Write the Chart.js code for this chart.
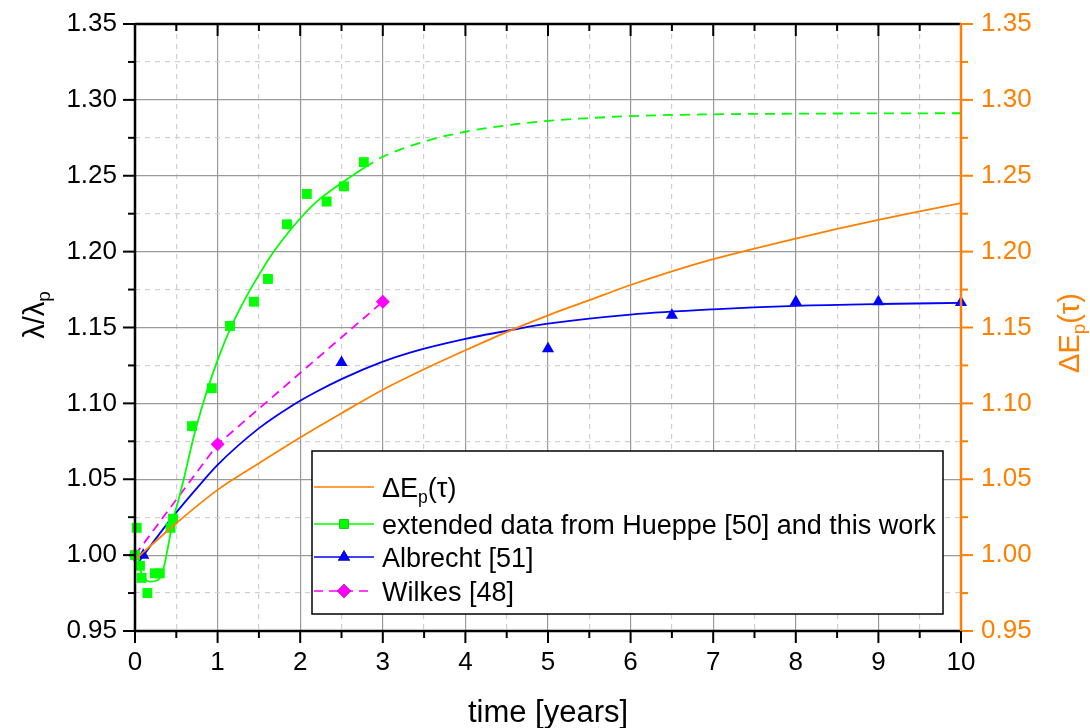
<!DOCTYPE html>
<html>
<head>
<meta charset="utf-8">
<script src="https://cdn.jsdelivr.net/npm/chart.js@4.4.1/dist/chart.umd.min.js"></script>
<style>
  html, body { margin: 0; padding: 0; background: #fff; }
  #wrap { width: 1090px; height: 728px; }
</style>
</head>
<body>
<div id="wrap"><canvas id="chart" width="1090" height="728"></canvas></div>
<script>
// values (time in years, y = lambda/lambda_p)
const hueppeTime = [0, 0.02, 0.06, 0.08, 0.15, 0.24, 0.30, 0.43, 0.46, 0.69, 0.93, 1.15, 1.44, 1.61, 1.84, 2.08, 2.32, 2.53, 2.77];
const hueppeValue = [1.000, 1.018, 0.993, 0.985, 0.975, 0.988, 0.988, 1.018, 1.024, 1.085, 1.110, 1.151, 1.167, 1.182, 1.218, 1.238, 1.233, 1.243, 1.259];

const hueppeFitTime = [0.04, 0.06, 0.10, 0.18, 0.28, 0.34, 0.40, 0.46, 0.525, 0.59, 0.72, 0.87, 1.01, 1.16, 1.34, 1.51, 1.70, 2.01, 2.19, 2.52, 2.78];
const hueppeFitValue = [0.997, 0.991, 0.986, 0.9825, 0.9836, 0.990, 1.0055, 1.023, 1.036, 1.050, 1.080, 1.108, 1.130, 1.150, 1.1695, 1.1855, 1.2015, 1.2225, 1.2325, 1.246, 1.2555];
const hueppeExtTime = [2.78, 3.0, 3.5, 4.0, 4.5, 5.0, 5.5, 6.0, 7.0, 8.0, 9.0, 10.0];
const hueppeExtValue = [1.2555, 1.2625, 1.2725, 1.2790, 1.2832, 1.2862, 1.2880, 1.2893, 1.2905, 1.2909, 1.2911, 1.2912];

const albrechtTime = [0.1, 2.5, 5, 6.5, 8, 9, 10];
const albrechtValue = [1.000, 1.127, 1.136, 1.158, 1.167, 1.167, 1.1665];
const albrechtFitTime = [0.05, 0.2, 0.46, 0.81, 1.0, 1.51, 1.9, 2.19, 2.52, 3.0, 3.33, 4.0, 4.62, 5.0, 6.0, 7.0, 8.0, 9.0, 10.0];
const albrechtFitValue = [0.996, 1.007, 1.0255, 1.048, 1.0595, 1.084, 1.0985, 1.1075, 1.1165, 1.1275, 1.1335, 1.1425, 1.149, 1.1525, 1.1585, 1.162, 1.1643, 1.1655, 1.1662];

const wilkesTime = [0, 1, 3];
const wilkesValue = [1.000, 1.073, 1.167];

const deltaETime = [0, 0.5, 1, 1.5, 2, 2.5, 3, 3.5, 4, 4.5, 5, 5.5, 6, 6.5, 7, 7.5, 8, 8.5, 9, 9.5, 10];
const deltaEValue = [0.997, 1.021, 1.043, 1.0605, 1.0775, 1.0935, 1.109, 1.1225, 1.135, 1.147, 1.158, 1.168, 1.178, 1.187, 1.195, 1.202, 1.2085, 1.215, 1.221, 1.2265, 1.232];

const xTicks = [0, 10, 0.5];       // min, max, step (labels on whole years)
const yTicks = [0.95, 1.35, 0.025]; // min, max, step (labels every 0.05)

const ORANGE = '#ff8000';
const GREEN = '#00ff00';
const BLUE = '#0000ff';
const MAGENTA = '#ff00ff';
const FONT = '"Liberation Sans", Arial, sans-serif';

function pts(xs, ys) {
    return xs.map((x, i) => ({ x: x, y: ys[i] }));
}
function isMajorX(v) { return Math.abs(v - Math.round(v)) < 1e-6; }
function isMajorY(v) { return Math.abs(v * 20 - Math.round(v * 20)) < 1e-6; }

// text with "_x" for a subscript character
function richParts(text) {
    const parts = [];
    let i = 0, buf = '';
    while (i < text.length) {
        if (text[i] === '_' && i + 1 < text.length) {
            if (buf) parts.push({ t: buf, sub: false });
            parts.push({ t: text[i + 1], sub: true });
            buf = '';
            i += 2;
        } else {
            buf += text[i];
            i++;
        }
    }
    if (buf) parts.push({ t: buf, sub: false });
    return parts;
}
function richWidth(ctx, text, size) {
    let w = 0;
    richParts(text).forEach(p => {
        ctx.font = (p.sub ? size * 0.65 : size) + 'px ' + FONT;
        w += ctx.measureText(p.t).width;
    });
    return w;
}
function drawRich(ctx, text, x, y, size, color) {
    ctx.fillStyle = color;
    ctx.textBaseline = 'alphabetic';
    ctx.textAlign = 'left';
    let cx = x;
    richParts(text).forEach(p => {
        const s = p.sub ? size * 0.65 : size;
        ctx.font = s + 'px ' + FONT;
        ctx.fillText(p.t, cx, p.sub ? y + size * 0.22 : y);
        cx += ctx.measureText(p.t).width;
    });
}

const framePlugin = {
    id: 'frame',
    afterDraw(chart) {
        const ctx = chart.ctx;
        const a = chart.chartArea;
        const xs = chart.scales.x, ys = chart.scales.y;
        ctx.save();
        // tick marks
        ctx.lineWidth = 2;
        xs.ticks.forEach(t => {
            const px = xs.getPixelForValue(t.value);
            const len = isMajorX(t.value) ? 12 : 7;
            ctx.strokeStyle = '#000';
            ctx.beginPath();
            ctx.moveTo(px, a.bottom); ctx.lineTo(px, a.bottom + len);
            ctx.moveTo(px, a.top); ctx.lineTo(px, a.top + len);
            ctx.stroke();
        });
        ys.ticks.forEach(t => {
            const py = ys.getPixelForValue(t.value);
            const len = isMajorY(t.value) ? 12 : 7;
            ctx.strokeStyle = '#000';
            ctx.beginPath();
            ctx.moveTo(a.left, py); ctx.lineTo(a.left - len, py);
            ctx.stroke();
            ctx.strokeStyle = ORANGE;
            ctx.beginPath();
            ctx.moveTo(a.right, py); ctx.lineTo(a.right + len, py);
            ctx.stroke();
        });
        // axis lines
        ctx.lineWidth = 2.5;
        ctx.strokeStyle = '#000';
        ctx.beginPath();
        ctx.moveTo(a.left, a.top); ctx.lineTo(a.right, a.top);
        ctx.moveTo(a.left, a.top - 1); ctx.lineTo(a.left, a.bottom + 1);
        ctx.moveTo(a.left - 1, a.bottom); ctx.lineTo(a.right + 1, a.bottom);
        ctx.stroke();
        ctx.strokeStyle = ORANGE;
        ctx.beginPath();
        ctx.moveTo(a.right, a.top - 1); ctx.lineTo(a.right, a.bottom);
        ctx.stroke();

        // axis titles
        ctx.font = '31px ' + FONT;
        ctx.fillStyle = '#000';
        ctx.textAlign = 'center';
        ctx.textBaseline = 'alphabetic';
        ctx.fillText('time [years]', (a.left + a.right) / 2, 722);

        const yTitle = 'λ/λ_p';
        let w = richWidth(ctx, yTitle, 29);
        ctx.save();
        ctx.translate(44, 315);
        ctx.rotate(-Math.PI / 2);
        drawRich(ctx, yTitle, -w / 2, 0, 29, '#000');
        ctx.restore();

        const y2Title = 'ΔE_p(τ)';
        w = richWidth(ctx, y2Title, 29);
        ctx.save();
        ctx.translate(1079, 333);
        ctx.rotate(-Math.PI / 2);
        drawRich(ctx, y2Title, -w / 2, 0, 29, ORANGE);
        ctx.restore();

        // legend box
        const box = { l: 312, t: 451, r: 943, b: 614 };
        ctx.fillStyle = '#fff';
        ctx.fillRect(box.l, box.t, box.r - box.l, box.b - box.t);
        ctx.lineWidth = 1.5;
        ctx.strokeStyle = '#000';
        ctx.strokeRect(box.l, box.t, box.r - box.l, box.b - box.t);
        const rows = [487, 524, 557, 591];
        const entries = chart.data.datasets.filter(d => d.legendText);
        entries.forEach((d, i) => {
            const y = rows[i];
            ctx.strokeStyle = d.borderColor;
            ctx.lineWidth = 1.6;
            ctx.setLineDash(d.legendDash || []);
            ctx.beginPath();
            ctx.moveTo(314, y); ctx.lineTo(374, y);
            ctx.stroke();
            ctx.setLineDash([]);
            if (d.legendMarker) {
                Chart.helpers.drawPoint(ctx, {
                    pointStyle: d.legendMarker, radius: d.legendRadius, rotation: 0, borderWidth: 0
                }, 344, y);
                ctx.fillStyle = d.borderColor;
                ctx.fill();
            }
            drawRich(ctx, d.legendText, 382, y + 10, 27, '#000');
        });
        ctx.restore();
    }
};

const lineDefaults = { showLine: true, pointRadius: 0, fill: false, cubicInterpolationMode: 'monotone', borderWidth: 1.8 };
const noPad = s => { s.paddingTop = 0; s.paddingBottom = 0; s.paddingLeft = 0; s.paddingRight = 0; };

new Chart(document.getElementById('chart'), {
    type: 'scatter',
    data: {
        datasets: [
            Object.assign({}, lineDefaults, {
                label: 'ΔEp(τ)', legendText: 'ΔE_p(τ)', borderColor: ORANGE,
                data: pts(deltaETime, deltaEValue), yAxisID: 'y2'
            }),
            {
                label: 'extended data from Hueppe [50] and this work',
                legendText: 'extended data from Hueppe [50] and this work',
                legendMarker: 'rect', legendRadius: 6.5,
                data: pts(hueppeTime, hueppeValue), borderColor: GREEN,
                backgroundColor: GREEN, pointStyle: 'rect', pointRadius: 7, borderWidth: 0, clip: false
            },
            Object.assign({}, lineDefaults, {
                label: 'Hueppe fit', data: pts(hueppeFitTime, hueppeFitValue), borderColor: GREEN
            }),
            Object.assign({}, lineDefaults, {
                label: 'Hueppe fit (extrapolated)', data: pts(hueppeExtTime, hueppeExtValue),
                borderColor: GREEN, borderDash: [10, 7]
            }),
            {
                label: 'Albrecht [51]', legendText: 'Albrecht [51]',
                legendMarker: 'triangle', legendRadius: 7,
                data: pts(albrechtTime, albrechtValue), borderColor: BLUE,
                backgroundColor: BLUE, pointStyle: 'triangle', pointRadius: 7, borderWidth: 0, clip: false
            },
            Object.assign({}, lineDefaults, {
                label: 'Albrecht fit', data: pts(albrechtFitTime, albrechtFitValue), borderColor: BLUE
            }),
            Object.assign({}, lineDefaults, {
                label: 'Wilkes [48]', legendText: 'Wilkes [48]', legendDash: [9, 6],
                legendMarker: 'rectRot', legendRadius: 7,
                data: pts(wilkesTime, wilkesValue), borderColor: MAGENTA, backgroundColor: MAGENTA,
                borderDash: [9, 6], cubicInterpolationMode: 'default', tension: 0,
                pointStyle: 'rectRot', pointRadius: 7, pointBorderWidth: 0, clip: false
            })
        ]
    },
    options: {
        responsive: false,
        animation: false,
        layout: { padding: { top: 24, left: 0, right: 0, bottom: 0 } },
        plugins: { legend: { display: false }, tooltip: { enabled: false } },
        scales: {
            x: {
                type: 'linear', min: xTicks[0], max: xTicks[1],
                afterFit: s => { noPad(s); s.height = 97; },
                ticks: {
                    stepSize: xTicks[2], autoSkip: false, maxRotation: 0, padding: 16,
                    color: '#000', font: { family: FONT, size: 26 },
                    callback: v => isMajorX(v) ? String(Math.round(v)) : ''
                },
                grid: {
                    drawTicks: false, lineWidth: 1.2,
                    color: c => isMajorX(c.tick.value) ? '#9a9a9a' : '#cfcfcf'
                },
                border: {
                    display: false,
                    dash: c => (c.tick && !isMajorX(c.tick.value)) ? [5, 5] : []
                }
            },
            y: {
                type: 'linear', position: 'left', min: yTicks[0], max: yTicks[1],
                afterFit: s => { noPad(s); s.width = 135; },
                ticks: {
                    stepSize: yTicks[2], autoSkip: false, padding: 18,
                    color: '#000', font: { family: FONT, size: 26 },
                    callback: v => isMajorY(v) ? v.toFixed(2) : ''
                },
                grid: {
                    drawTicks: false, lineWidth: 1.2,
                    color: c => isMajorY(c.tick.value) ? '#9a9a9a' : '#cfcfcf'
                },
                border: {
                    display: false,
                    dash: c => (c.tick && !isMajorY(c.tick.value)) ? [5, 5] : []
                }
            },
            y2: {
                type: 'linear', position: 'right', min: yTicks[0], max: yTicks[1],
                afterFit: s => { noPad(s); s.width = 129; },
                ticks: {
                    stepSize: yTicks[2], autoSkip: false, padding: 20,
                    color: ORANGE, font: { family: FONT, size: 26 },
                    callback: v => isMajorY(v) ? v.toFixed(2) : ''
                },
                grid: { display: false, drawTicks: false },
                border: { display: false }
            }
        }
    },
    plugins: [framePlugin]
});
</script>
</body>
</html>
